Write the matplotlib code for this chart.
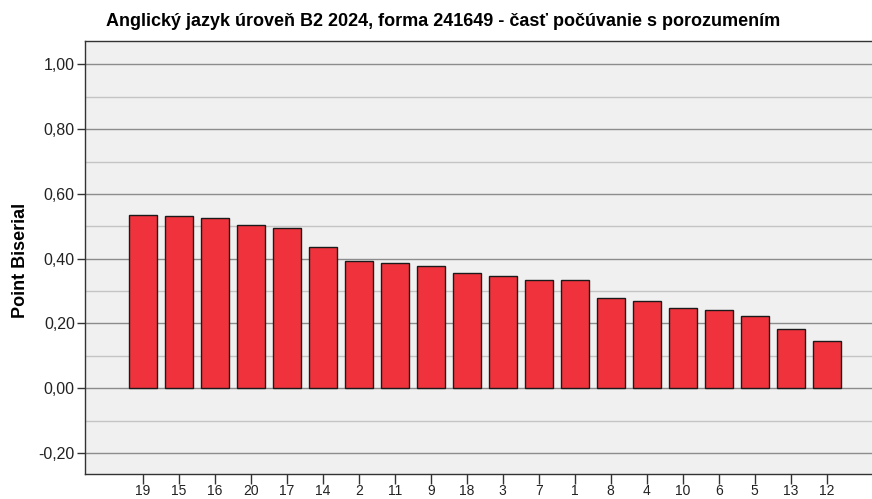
import matplotlib.pyplot as plt
from matplotlib.ticker import MultipleLocator, FuncFormatter

plt.rcParams['font.family'] = ['Liberation Sans', 'DejaVu Sans']

items = ['19', '15', '16', '20', '17', '14', '2', '11', '9', '18',
         '3', '7', '1', '8', '4', '10', '6', '5', '13', '12']
point_biserial = [0.535, 0.531, 0.525, 0.505, 0.496, 0.437, 0.393, 0.388, 0.377, 0.357,
                  0.348, 0.335, 0.334, 0.280, 0.268, 0.248, 0.241, 0.223, 0.183, 0.145]

fig = plt.figure(figsize=(8.72, 4.99), dpi=100)
ax = fig.add_axes([84.5 / 872, 1 - 474 / 499, 1 - 84.5 / 872, (474 - 41.5) / 499])
ax.set_facecolor('#f0f0f0')

# gridlines: darker at labelled ticks, lighter in between
for v in [-0.2, 0.0, 0.2, 0.4, 0.6, 0.8, 1.0]:
    ax.axhline(v, color='#8c8c8c', lw=1.0, zorder=1)
for v in [-0.1, 0.1, 0.3, 0.5, 0.7, 0.9]:
    ax.axhline(v, color='#c4c4c4', lw=1.0, zorder=1)

x = range(len(items))
ax.bar(x, point_biserial, width=0.78, color='#f0323c', edgecolor='#1a1a1a',
       linewidth=1.0, zorder=3)

ax.set_xlim(-1.62, 20.26)
ax.set_ylim(-0.265, 1.071)
ax.set_xticks(list(x))
ax.set_xticklabels(items, fontsize=10, family=['Liberation Sans Narrow', 'Liberation Sans'],
                   color='#222222')
ax.yaxis.set_major_locator(MultipleLocator(0.2))
ax.yaxis.set_major_formatter(FuncFormatter(lambda v, p: f'{v:.2f}'.replace('.', ',')))
ax.tick_params(axis='y', labelsize=11.5, length=6, width=1, color='#333333', pad=1,
               labelcolor='#222222')
ax.tick_params(axis='x', length=7, width=1, color='#333333', pad=0)

for s in ax.spines.values():
    s.set_color('#333333')
    s.set_linewidth(1.0)
ax.spines['right'].set_visible(False)

ax.set_ylabel('Point Biserial', fontsize=13, fontweight='bold', va='center')
ax.yaxis.set_label_coords(20.5 / 872, 1 - 260 / 499, transform=fig.transFigure)

fig.text(443 / 872, 1 - 26 / 499,
         'Anglický jazyk úroveň B2 2024, forma 241649 - časť počúvanie s porozumením',
         ha='center', va='baseline', fontsize=13, fontweight='bold')

plt.savefig('out.png', dpi=100)
